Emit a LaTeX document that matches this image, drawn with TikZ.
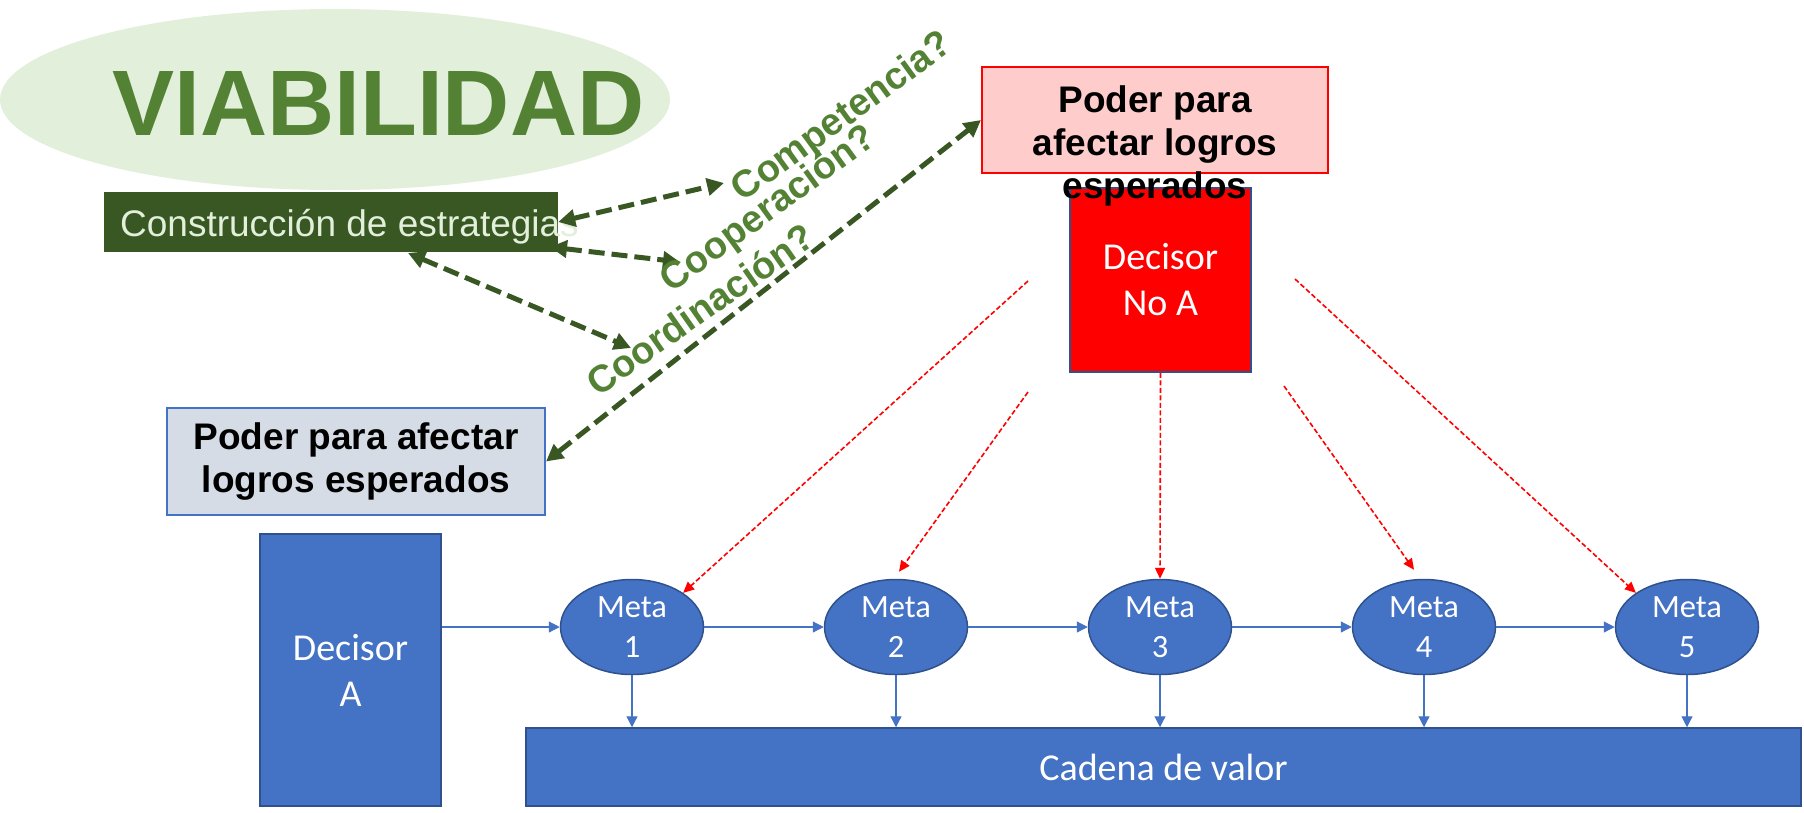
\documentclass[tikz,border=0pt]{standalone}
\usepackage{fontspec}
\setmainfont{Liberation Sans}
\newfontfamily\carl{Carlito}
\usetikzlibrary{shapes.geometric,arrows.meta,calc}
\definecolor{lgreen}{HTML}{E2EFDA}
\definecolor{mgreen}{HTML}{548235}
\definecolor{dgreen}{HTML}{385723}
\definecolor{bblue}{HTML}{4472C4}
\definecolor{dblue}{HTML}{2F528F}
\definecolor{pinkf}{HTML}{FFCCCC}
\definecolor{lbluef}{HTML}{D6DCE5}
\begin{document}
\begin{tikzpicture}[x=1pt,y=-1pt,
  greenarr/.style={dgreen, line width=5pt, dash pattern=on 16pt off 7pt,
    {Triangle[length=17pt,width=17pt]}-{Triangle[length=17pt,width=17pt]}},
  redarr/.style={red, line width=1.6pt, dash pattern=on 5pt off 2.5pt,
    -{Triangle[length=11pt,width=10pt]}},
  bluearr/.style={bblue, line width=1.2pt, -{Triangle[length=11pt,width=11pt]}},
  meta/.style={ellipse, draw=dblue, line width=1.5pt, fill=bblue, text=white,
    minimum width=143pt, minimum height=95pt, inner sep=0pt, align=center,
    font=\carl\fontsize{32.5}{40}\selectfont},
  bluebox/.style={rectangle, draw=dblue, line width=1.5pt, fill=bblue, text=white,
    inner sep=0pt, align=center, font=\carl\fontsize{38}{46}\selectfont},
  glabel/.style={text=mgreen, font=\bfseries\fontsize{38}{40}\selectfont, inner sep=0pt},
  boldtxt/.style={font=\bfseries\fontsize{37}{43}\selectfont, align=center, inner sep=0pt}
]
\useasboundingbox (0,0) rectangle (1804,812);

% VIABILIDAD
\node[ellipse, fill=lgreen, minimum width=670pt, minimum height=181pt, inner sep=0pt] (ell) at (335,99.5) {};
\node[anchor=base west, text=mgreen, font=\bfseries\fontsize{93}{100}\selectfont, inner sep=0pt] (via) at (112,135) {VIABILIDAD};

% Construccion
\node[rectangle, fill=dgreen, minimum width=454pt, minimum height=60pt, inner sep=0pt] (cs) at (331,222) {};
\node[anchor=base west, text=lgreen, font=\fontsize{37}{44}\selectfont, inner sep=0pt] (cst) at (120,236) {Construcción de estrategias};

% Pink box and Decisor No A
\node[rectangle, draw=red, line width=2pt, fill=pinkf, minimum width=346pt, minimum height=106pt, inner sep=0pt] (pk) at (1155,120) {};
\node[bluebox, fill=red, minimum width=181pt, minimum height=184pt] (dnA) at (1160.5,280) {Decisor\\No A};
\node[boldtxt] (pkt) at (1155,146) {Poder para\\afectar logros\\esperados};

% Light blue box
\node[rectangle, draw=bblue, line width=2pt, fill=lbluef, minimum width=378pt, minimum height=107pt, boldtxt] (lb) at (356,461.5) {Poder para afectar\\logros esperados};

% Decisor A and Cadena
\node[bluebox, minimum width=181pt, minimum height=272pt] (dA) at (350.5,670) {Decisor\\A};
\node[bluebox, minimum width=1275pt, minimum height=78pt] (cad) at (1163.5,767) {Cadena de valor};

% Metas
\node[meta] (m1) at (632,627) {Meta\\1};
\node[meta] (m2) at (896,627) {Meta\\2};
\node[meta] (m3) at (1160,627) {Meta\\3};
\node[meta] (m4) at (1424,627) {Meta\\4};
\node[meta] (m5) at (1687,627) {Meta\\5};

% Blue arrows
\draw[bluearr] (dA.east |- m1.west) -- (m1.west);
\draw[bluearr] (m1.east) -- (m2.west);
\draw[bluearr] (m2.east) -- (m3.west);
\draw[bluearr] (m3.east) -- (m4.west);
\draw[bluearr] (m4.east) -- (m5.west);
\foreach \m in {m1,m2,m3,m4,m5}{
  \draw[bluearr] (\m.south) -- (\m.south |- cad.north);
}

% Red dashed arrows
\coordinate (r1) at (1028,281);
\coordinate (r2) at (1028,392);
\coordinate (r4) at (1284,386);
\coordinate (r5) at (1295,279);
\draw[redarr] (r1) -- (m1.north east);
\draw[redarr] (r2) -- ([shift={(3,-7)}]m2.north);
\draw[redarr] (dnA.south) -- (m3.north);
\draw[redarr] (r4) -- ([shift={(-10,-9)}]m4.north);
\draw[redarr] (r5) -- (m5.north west);

% Green dashed arrows
\coordinate (g1) at (724,183);
\coordinate (g2a) at (550,247);
\coordinate (g2) at (680,262);
\coordinate (g3a) at (408,253);
\coordinate (g3) at (631,348);
\draw[greenarr] (cs.east) -- (g1);
\draw[greenarr] (g2a) -- (g2);
\draw[greenarr] (g3a) -- (g3);
\draw[greenarr] (lb.east) -- (pk.west);

% Labels
\node[glabel, rotate=36] (lc1) at (843,118) {Competencia?};
\node[glabel, rotate=36] (lc2) at (769,210) {Cooperación?};
\node[glabel, rotate=35] (lc3) at (700,309) {Coordinación?};
\end{tikzpicture}
\end{document}
